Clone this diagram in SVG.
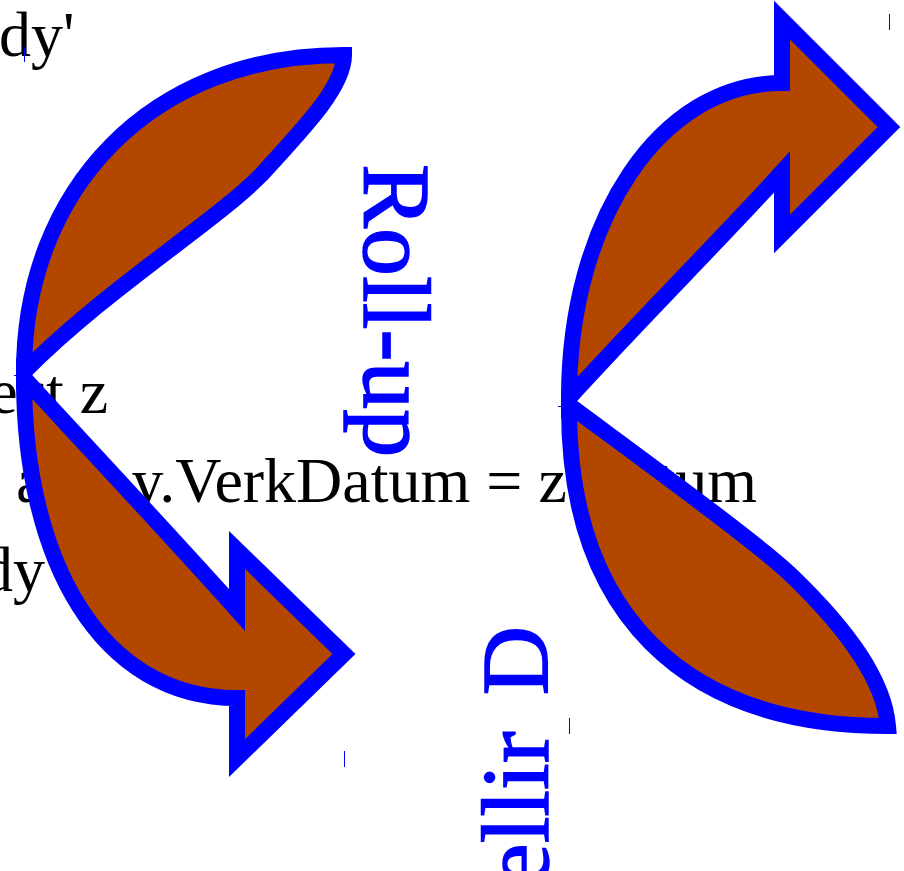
<svg xmlns="http://www.w3.org/2000/svg" width="904" height="871" viewBox="0 0 904 871">
<style>
.t{font-family:"Liberation Serif","Times New Roman",serif;font-size:64px;fill:#000}
.b{font-family:"Liberation Serif","Times New Roman",serif;font-size:96px;fill:#00f;stroke:#00f;stroke-width:1.5}
.a{fill:#b34700;stroke:#00f;stroke-width:16;stroke-miterlimit:10}
.k{stroke:#00f;stroke-width:1;fill:none}
</style>
<rect width="904" height="871" fill="#fff"/>
<g id="code">
<text class="t" x="-1" y="56">dy'</text>
<text class="t" x="-10.8" y="413">ect z</text>
<text class="t" x="16" y="502">and <tspan dx="7">y.VerkDatum = z.Datum</tspan></text>
<text class="t" x="-19" y="591">dy</text>
</g>
<g id="connectors">
<g id="arrow-top-left"><path class="a" d="M24,372 C24,190 150,55 344,55 C344,85 310,122 261,175 C215,222 105,290 24,372Z"/></g>
<g id="arrow-bottom-left"><path class="a" d="M24,378 C24,560 100,698 237,698 L237,758 L344,654 L237,550 L237,610 C170,535 90,450 24,378Z"/></g>
<g id="arrow-top-right"><path class="a" d="M569,398 C569,220 660,83 782,83 L782,20 L889,127 L782,234 L782,172 C720,240 640,320 569,398Z"/></g>
<g id="arrow-bottom-right"><path class="a" d="M569,405 C568,612 682,726 888,726 C884,680 848,630 792,576 C760,545 650,465 569,405Z"/></g>
<path class="k" d="M24.5,47V62M889.5,14V30M344.5,751V767M569.5,718V734M14,375.5H24M558,406.5H568"/>
</g>
<g id="label-roll-up"><text class="b" transform="translate(364,164) rotate(90)">Roll-up</text></g>
<g id="label-drill"><text class="b" text-anchor="end" word-spacing="12" transform="translate(548,626) rotate(-90)">ellir D</text></g>
</svg>
